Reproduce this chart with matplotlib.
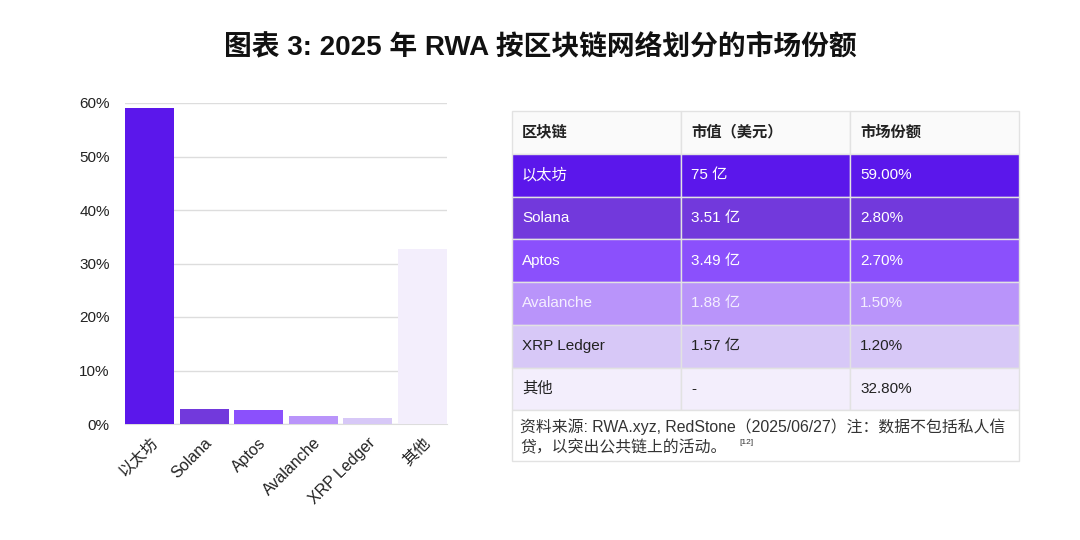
import matplotlib
matplotlib.use("Agg")
import matplotlib.pyplot as plt
from matplotlib.patches import Rectangle

# Latin glyphs from Liberation Sans, CJK falls through to Noto
plt.rcParams['font.family'] = ['Liberation Sans', 'Noto Sans CJK SC', 'DejaVu Sans']

# data
chains = ["以太坊", "Solana", "Aptos", "Avalanche", "XRP Ledger", "其他"]
share = [59.0, 2.8, 2.7, 1.5, 1.2, 32.8]
marketCap = ["75 亿", "3.51 亿", "3.49 亿", "1.88 亿", "1.57 亿", "-"]
shareLabels = ["59.00%", "2.80%", "2.70%", "1.50%", "1.20%", "32.80%"]
headers = ["区块链", "市值（美元）", "市场份额"]
yTicks = [0, 10, 20, 30, 40, 50, 60]
noteLine1 = "资料来源: RWA.xyz, RedStone（2025/06/27）注：数据不包括私人信"
noteLine2 = "贷，以突出公共链上的活动。"
noteRef = "[12]"

barColors = ["#5B17EB", "#7239DC", "#8B50FC", "#B994FA", "#D7C8F7", "#F3EEFC"]
textColors = ["white", "white", "white", "#F4EEFF", "#222222", "#222222"]

fig = plt.figure(figsize=(10.8, 5.4), dpi=100)
fig.text(0.5, 0.913, "图表 3: 2025 年 RWA 按区块链网络划分的市场份额",
         ha="center", va="center", fontsize=20, fontweight="bold", color="#111111")

# bar chart
ax = fig.add_axes([125/1080, 116/540, 322/1080, 321/540])
x = range(len(chains))
ax.bar(x, share, width=0.9, color=barColors, zorder=3)
ax.set_xlim(-0.45, len(chains) - 0.55)
ax.set_ylim(0, 60)
ax.set_yticks(yTicks)
ax.set_yticklabels([f"{t}%" for t in yTicks], fontsize=11, color="#222222")
ax.set_xticks(list(x))
ax.set_xticklabels(chains, rotation=45, ha="right", rotation_mode="anchor",
                   fontsize=11.5, color="#222222")
ax.tick_params(axis="both", length=0)
ax.tick_params(axis="y", pad=11)
ax.tick_params(axis="x", pad=8)
ax.grid(axis="y", color="#DDDDDD", linewidth=1, zorder=0)
ax.set_axisbelow(True)
for s in ["top", "right", "left"]:
    ax.spines[s].set_visible(False)
ax.spines["bottom"].set_color("#DDDDDD")

# table
tw, th = 507, 350
tab = fig.add_axes([512/1080, 79/540, tw/1080, th/540])
tab.set_xlim(0, tw)
tab.set_ylim(th, 0)
tab.axis("off")
colX = [0, 169, 338, tw]
headH = 43
rowH = 42.7
border = "#E2E2E2"

def cell(x0, y0, w, h, fc):
    tab.add_patch(Rectangle((x0, y0), w, h, facecolor=fc, edgecolor=border,
                            linewidth=1, clip_on=False))

for c, h in enumerate(headers):
    cell(colX[c], 0, colX[c+1] - colX[c], headH, "#FAFAFA")
    tab.text(colX[c] + 10, headH / 2, h, ha="left", va="center",
             fontsize=11, fontweight="bold", color="#222222")

for r, name in enumerate(chains):
    y0 = headH + r * rowH
    vals = [name, marketCap[r], shareLabels[r]]
    for c, v in enumerate(vals):
        cell(colX[c], y0, colX[c+1] - colX[c], rowH, barColors[r])
        tab.text(colX[c] + 10, y0 + rowH / 2, v, ha="left", va="center",
                 fontsize=11, color=textColors[r])

yNote = headH + len(chains) * rowH
cell(0, yNote, tw, th - yNote, "white")
tab.text(8, yNote + 16, noteLine1, ha="left", va="center", fontsize=11.4, color="#333333")
line2 = tab.text(8, yNote + 37, noteLine2, ha="left", va="center", fontsize=11.4, color="#333333")
tab.annotate(noteRef, xy=(1, 1), xycoords=line2, xytext=(9, 0), textcoords="offset points",
             ha="left", va="top", fontsize=6, color="#333333")

fig.savefig("out.png", dpi=100, facecolor="white")
